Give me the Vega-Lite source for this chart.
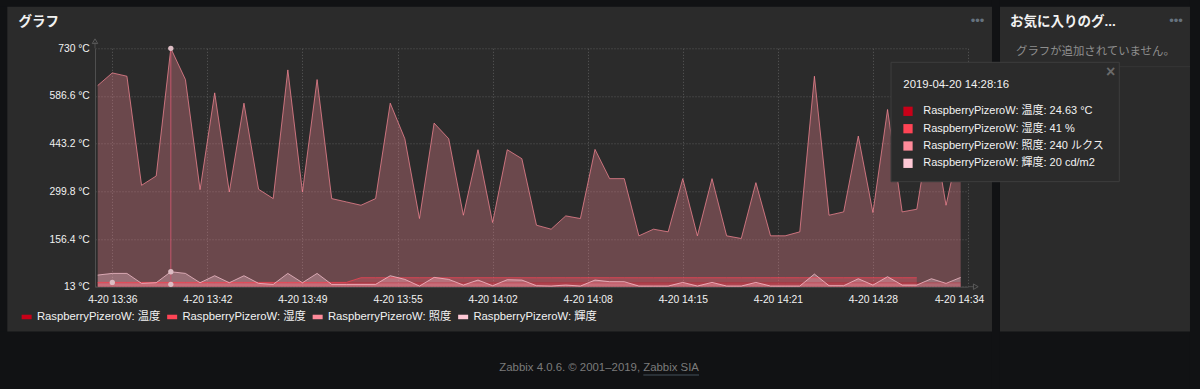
{
  "$schema": "https://vega.github.io/schema/vega-lite/v6.json",
  "width": 873,
  "height": 238.4,
  "autosize": {"type": "none"},
  "padding": {"left": 95, "top": 48.3, "right": 232, "bottom": 102.3},
  "background": "#2b2b2b",
  "config": {"font": "Liberation Sans, Noto Sans CJK JP, sans-serif", "view": {"stroke": null}},
  "layer": [
    {"data": {"values": [{}]}, "mark": {"type": "rect", "color": "#111214"},
     "encoding": {"x": {"datum": {"year":2019,"month":4,"date":20,"hours":13,"minutes":20,"seconds":0,"utc":true}}, "x2": {"datum": {"year":2019,"month":4,"date":20,"hours":13,"minutes":28,"seconds":19,"milliseconds":300,"utc":true}}, "y": {"datum": 900}, "y2": {"datum": -400}}},
    {"data": {"values": [{}]}, "mark": {"type": "rect", "color": "#111214"},
     "encoding": {"x": {"datum": {"year":2019,"month":4,"date":20,"hours":13,"minutes":20,"seconds":0,"utc":true}}, "x2": {"datum": {"year":2019,"month":4,"date":20,"hours":15,"minutes":0,"seconds":0,"utc":true}}, "y": {"datum": 900}, "y2": {"datum": 855.1}}},
    {"data": {"values": [{}]}, "mark": {"type": "rect", "color": "#111214"},
     "encoding": {"x": {"datum": {"year":2019,"month":4,"date":20,"hours":13,"minutes":20,"seconds":0,"utc":true}}, "x2": {"datum": {"year":2019,"month":4,"date":20,"hours":15,"minutes":0,"seconds":0,"utc":true}}, "y": {"datum": -121.7}, "y2": {"datum": -400}}},
    {"data": {"values": [{}]}, "mark": {"type": "rect", "color": "#111214"},
     "encoding": {"x": {"datum": {"year":2019,"month":4,"date":20,"hours":14,"minutes":35,"seconds":38,"milliseconds":400,"utc":true}}, "x2": {"datum": {"year":2019,"month":4,"date":20,"hours":14,"minutes":36,"seconds":11,"milliseconds":200,"utc":true}}, "y": {"datum": 900}, "y2": {"datum": -400}}},
    {"data": {"values": [{}]}, "mark": {"type": "rect", "color": "#111214"},
     "encoding": {"x": {"datum": {"year":2019,"month":4,"date":20,"hours":14,"minutes":49,"seconds":10,"milliseconds":600,"utc":true}}, "x2": {"datum": {"year":2019,"month":4,"date":20,"hours":15,"minutes":0,"seconds":0,"utc":true}}, "y": {"datum": 900}, "y2": {"datum": -400}}},
    {
      "data": {"values": [
        {"t":"2019-04-20T13:34:30Z","temp":24.6,"hum":26,"lux":618,"lum":48},
        {"t":"2019-04-20T13:35:30Z","temp":24.6,"hum":26,"lux":656,"lum":53},
        {"t":"2019-04-20T13:36:30Z","temp":24.6,"hum":26,"lux":646,"lum":53},
        {"t":"2019-04-20T13:37:30Z","temp":24.6,"hum":26,"lux":318,"lum":23},
        {"t":"2019-04-20T13:38:30Z","temp":24.6,"hum":26,"lux":346,"lum":25},
        {"t":"2019-04-20T13:39:30Z","temp":24.6,"hum":26,"lux":730,"lum":58},
        {"t":"2019-04-20T13:40:30Z","temp":24.6,"hum":26,"lux":636,"lum":53},
        {"t":"2019-04-20T13:41:30Z","temp":24.6,"hum":26,"lux":305,"lum":25},
        {"t":"2019-04-20T13:42:30Z","temp":24.6,"hum":26,"lux":596,"lum":46},
        {"t":"2019-04-20T13:43:30Z","temp":24.6,"hum":26,"lux":298,"lum":25},
        {"t":"2019-04-20T13:44:30Z","temp":24.6,"hum":26,"lux":565,"lum":46},
        {"t":"2019-04-20T13:45:30Z","temp":24.6,"hum":26,"lux":306,"lum":23},
        {"t":"2019-04-20T13:46:30Z","temp":24.6,"hum":26,"lux":278,"lum":20},
        {"t":"2019-04-20T13:47:30Z","temp":24.6,"hum":26,"lux":665,"lum":53},
        {"t":"2019-04-20T13:48:30Z","temp":24.6,"hum":26,"lux":298,"lum":25},
        {"t":"2019-04-20T13:49:30Z","temp":24.6,"hum":26,"lux":636,"lum":53},
        {"t":"2019-04-20T13:50:30Z","temp":24.6,"hum":26,"lux":278,"lum":20},
        {"t":"2019-04-20T13:51:30Z","temp":24.6,"hum":26,"lux":268,"lum":20},
        {"t":"2019-04-20T13:52:30Z","temp":24.6,"hum":40,"lux":258,"lum":20},
        {"t":"2019-04-20T13:53:30Z","temp":24.6,"hum":40,"lux":278,"lum":20},
        {"t":"2019-04-20T13:54:30Z","temp":24.6,"hum":40,"lux":565,"lum":46},
        {"t":"2019-04-20T13:55:30Z","temp":24.6,"hum":40,"lux":458,"lum":35},
        {"t":"2019-04-20T13:56:30Z","temp":24.6,"hum":40,"lux":218,"lum":15},
        {"t":"2019-04-20T13:57:30Z","temp":24.6,"hum":40,"lux":505,"lum":41},
        {"t":"2019-04-20T13:58:30Z","temp":24.6,"hum":40,"lux":458,"lum":35},
        {"t":"2019-04-20T13:59:30Z","temp":24.6,"hum":40,"lux":228,"lum":18},
        {"t":"2019-04-20T14:00:30Z","temp":24.6,"hum":40,"lux":425,"lum":33},
        {"t":"2019-04-20T14:01:30Z","temp":24.6,"hum":40,"lux":206,"lum":16},
        {"t":"2019-04-20T14:02:30Z","temp":24.6,"hum":40,"lux":425,"lum":34},
        {"t":"2019-04-20T14:03:30Z","temp":24.6,"hum":40,"lux":398,"lum":33},
        {"t":"2019-04-20T14:04:30Z","temp":24.6,"hum":40,"lux":198,"lum":16},
        {"t":"2019-04-20T14:05:30Z","temp":24.6,"hum":40,"lux":186,"lum":15},
        {"t":"2019-04-20T14:06:30Z","temp":24.6,"hum":40,"lux":226,"lum":18},
        {"t":"2019-04-20T14:07:30Z","temp":24.6,"hum":40,"lux":218,"lum":15},
        {"t":"2019-04-20T14:08:30Z","temp":24.6,"hum":40,"lux":426,"lum":33},
        {"t":"2019-04-20T14:09:30Z","temp":24.6,"hum":40,"lux":338,"lum":28},
        {"t":"2019-04-20T14:10:30Z","temp":24.6,"hum":40,"lux":338,"lum":28},
        {"t":"2019-04-20T14:11:30Z","temp":24.6,"hum":40,"lux":166,"lum":15},
        {"t":"2019-04-20T14:12:30Z","temp":24.6,"hum":40,"lux":186,"lum":15},
        {"t":"2019-04-20T14:13:30Z","temp":24.6,"hum":40,"lux":178,"lum":15},
        {"t":"2019-04-20T14:14:30Z","temp":24.6,"hum":40,"lux":338,"lum":26},
        {"t":"2019-04-20T14:15:30Z","temp":24.6,"hum":40,"lux":166,"lum":15},
        {"t":"2019-04-20T14:16:30Z","temp":24.6,"hum":40,"lux":338,"lum":26},
        {"t":"2019-04-20T14:17:30Z","temp":24.6,"hum":40,"lux":166,"lum":15},
        {"t":"2019-04-20T14:18:30Z","temp":24.6,"hum":40,"lux":158,"lum":15},
        {"t":"2019-04-20T14:19:30Z","temp":24.6,"hum":40,"lux":326,"lum":26},
        {"t":"2019-04-20T14:20:30Z","temp":24.6,"hum":40,"lux":166,"lum":15},
        {"t":"2019-04-20T14:21:30Z","temp":24.6,"hum":40,"lux":166,"lum":15},
        {"t":"2019-04-20T14:22:30Z","temp":24.6,"hum":40,"lux":178,"lum":15},
        {"t":"2019-04-20T14:23:30Z","temp":24.6,"hum":40,"lux":646,"lum":51},
        {"t":"2019-04-20T14:24:30Z","temp":24.6,"hum":40,"lux":228,"lum":16},
        {"t":"2019-04-20T14:25:30Z","temp":24.6,"hum":40,"lux":238,"lum":16},
        {"t":"2019-04-20T14:26:30Z","temp":24.6,"hum":40,"lux":466,"lum":37},
        {"t":"2019-04-20T14:27:30Z","temp":24.6,"hum":40,"lux":236,"lum":18},
        {"t":"2019-04-20T14:28:30Z","temp":24.6,"hum":40,"lux":546,"lum":43},
        {"t":"2019-04-20T14:29:30Z","temp":24.6,"hum":40,"lux":238,"lum":18},
        {"t":"2019-04-20T14:30:30Z","temp":24.6,"hum":40,"lux":246,"lum":18},
        {"t":"2019-04-20T14:31:30Z","temp":24.6,"lux":520,"lum":37},
        {"t":"2019-04-20T14:32:30Z","temp":24.6,"lux":258,"lum":23},
        {"t":"2019-04-20T14:33:30Z","temp":24.6,"lux":460,"lum":41}
      ]},
      "transform": [{"fold": ["temp", "hum", "lux", "lum"], "as": ["item", "v"]}],
      "encoding": {
        "x": {"field": "t", "type": "temporal",
          "scale": {"type": "utc", "nice": false, "domain": [{"year":2019,"month":4,"date":20,"hours":13,"minutes":34,"seconds":19,"utc":true}, {"year":2019,"month":4,"date":20,"hours":14,"minutes":34,"seconds":0,"utc":true}]},
          "axis": {
            "values": [
              {"year":2019,"month":4,"date":20,"hours":13,"minutes":35,"seconds":30,"utc":true},
              {"year":2019,"month":4,"date":20,"hours":13,"minutes":42,"seconds":0,"utc":true},
              {"year":2019,"month":4,"date":20,"hours":13,"minutes":48,"seconds":30,"utc":true},
              {"year":2019,"month":4,"date":20,"hours":13,"minutes":55,"seconds":0,"utc":true},
              {"year":2019,"month":4,"date":20,"hours":14,"minutes":1,"seconds":30,"utc":true},
              {"year":2019,"month":4,"date":20,"hours":14,"minutes":8,"seconds":0,"utc":true},
              {"year":2019,"month":4,"date":20,"hours":14,"minutes":14,"seconds":30,"utc":true},
              {"year":2019,"month":4,"date":20,"hours":14,"minutes":21,"seconds":0,"utc":true},
              {"year":2019,"month":4,"date":20,"hours":14,"minutes":27,"seconds":30,"utc":true},
              {"year":2019,"month":4,"date":20,"hours":14,"minutes":34,"seconds":0,"utc":true}
            ],
            "labelExpr": "utcFormat(datum.value + 30000, '%-m-%d %H:%M')",
            "title": null, "grid": true, "gridColor": "#5a5a5a", "gridDash": [1, 2],
            "domainColor": "#4f4f4f", "ticks": false, "tickSize": 0, "labelPadding": 8,
            "labelColor": "#f2f2f2", "labelFontSize": 10.3, "labelFlush": false, "labelOverlap": false, "labelBound": false,
            "labelOffset": {"condition": {"test": "utchours(datum.value) == 14 && utcminutes(datum.value) == 34", "value": -9}, "value": 0}
          }},
        "y": {"field": "v", "type": "quantitative", "stack": null,
          "scale": {"domain": [13, 730], "nice": false, "zero": false},
          "axis": {"values": [13, 156.4, 299.8, 443.2, 586.6, 730], "labelExpr": "datum.value + ' °C'",
            "title": null, "grid": true, "gridColor": "#5a5a5a", "gridDash": [1, 2], "domainColor": "#4f4f4f",
            "ticks": false, "tickSize": 0, "labelPadding": 5.7, "labelColor": "#f2f2f2", "labelFontSize": 10.3,
            "labelOverlap": false, "labelFlush": false}},
        "color": {"field": "item", "type": "nominal",
          "scale": {"domain": ["temp", "hum", "lux", "lum"], "range": ["#C80018", "#FF4455", "#FF8A99", "#FFC9D6"]},
          "legend": {"orient": "none", "legendX": -74, "legendY": 263, "direction": "horizontal", "columns": 4,
            "title": null, "symbolType": "M-1,-0.45H1V0.45H-1Z", "symbolSize": 100, "symbolStrokeWidth": 0,
            "symbolOpacity": 1, "labelColor": "#f2f2f2", "labelFontSize": 11.3, "labelOffset": 4.6,
            "columnPadding": 5.5, "labelLimit": 220, "padding": 0,
            "labelExpr": "datum.label == 'temp' ? 'RaspberryPizeroW: 温度' : datum.label == 'hum' ? 'RaspberryPizeroW: 湿度' : datum.label == 'lux' ? 'RaspberryPizeroW: 照度' : 'RaspberryPizeroW: 輝度'"}}
      },
      "layer": [
        {"mark": {"type": "area", "fillOpacity": 0.3, "interpolate": "linear"}, "encoding": {"y2": {"datum": 13}}},
        {"mark": {"type": "line", "strokeWidth": 1, "interpolate": "linear"},
         "encoding": {"strokeOpacity": {"condition": {"test": "datum.item == 'temp'", "value": 0.3}, "value": 0.7}}}
      ]
    },
    {"data": {"values": [{}]}, "mark": {"type": "rule", "color": "#c4566b", "strokeWidth": 1},
     "encoding": {"x": {"datum": {"year":2019,"month":4,"date":20,"hours":13,"minutes":39,"seconds":30,"utc":true}}, "y": {"datum": 13}, "y2": {"datum": 730}}},
    {"data": {"values": [
        {"t": "2019-04-20T13:39:30Z", "v": 730},
        {"t": "2019-04-20T13:39:30Z", "v": 58},
        {"t": "2019-04-20T13:39:30Z", "v": 20},
        {"t": "2019-04-20T13:35:30Z", "v": 26}
      ]},
     "mark": {"type": "point", "filled": true, "size": 28, "color": "#dcbcc3", "opacity": 1},
     "encoding": {"x": {"field": "t", "type": "temporal"}, "y": {"field": "v", "type": "quantitative"}}},
    {"data": {"values": [{}]}, "mark": {"type": "rule", "color": "#4f4f4f"},
     "encoding": {"x": {"datum": {"year":2019,"month":4,"date":20,"hours":13,"minutes":34,"seconds":19,"utc":true}}, "y": {"datum": 730}, "y2": {"datum": 749}}},
    {"data": {"values": [{}]}, "mark": {"type": "point", "shape": "triangle-up", "size": 30, "filled": false, "stroke": "#5a5a5a", "strokeWidth": 1, "opacity": 1},
     "encoding": {"x": {"datum": {"year":2019,"month":4,"date":20,"hours":13,"minutes":34,"seconds":19,"utc":true}}, "y": {"datum": 751.3}}},
    {"data": {"values": [{}]}, "mark": {"type": "rule", "color": "#4f4f4f"},
     "encoding": {"x": {"datum": {"year":2019,"month":4,"date":20,"hours":14,"minutes":34,"seconds":0,"utc":true}}, "x2": {"datum": {"year":2019,"month":4,"date":20,"hours":14,"minutes":34,"seconds":24,"utc":true}}, "y": {"datum": 13}}},
    {"data": {"values": [{}]}, "mark": {"type": "point", "shape": "triangle-right", "size": 30, "filled": false, "stroke": "#5a5a5a", "strokeWidth": 1, "opacity": 1},
     "encoding": {"x": {"datum": {"year":2019,"month":4,"date":20,"hours":14,"minutes":34,"seconds":32,"utc":true}}, "y": {"datum": 13}}},
    {"data": {"values": [{}]}, "mark": {"type": "text", "text": "グラフ", "align": "left", "baseline": "middle", "fontSize": 13.5, "fontWeight": "bold", "color": "#f2f2f2"},
     "encoding": {"x": {"datum": {"year":2019,"month":4,"date":20,"hours":13,"minutes":29,"seconds":5,"milliseconds":200,"utc":true}}, "y": {"datum": 807.6}}},
    {"data": {"values": [{}]}, "mark": {"type": "text", "text": "•••", "align": "center", "baseline": "middle", "fontSize": 13, "color": "#66727e"},
     "encoding": {"x": {"datum": {"year":2019,"month":4,"date":20,"hours":14,"minutes":34,"seconds":39,"utc":true}}, "y": {"datum": 813}}},
    {"data": {"values": [{}]}, "mark": {"type": "text", "text": "お気に入りのグ...", "align": "left", "baseline": "middle", "fontSize": 13.5, "fontWeight": "bold", "color": "#f2f2f2"},
     "encoding": {"x": {"datum": {"year":2019,"month":4,"date":20,"hours":14,"minutes":36,"seconds":52,"milliseconds":300,"utc":true}}, "y": {"datum": 807.6}}},
    {"data": {"values": [{}]}, "mark": {"type": "text", "text": "•••", "align": "center", "baseline": "middle", "fontSize": 13, "color": "#66727e"},
     "encoding": {"x": {"datum": {"year":2019,"month":4,"date":20,"hours":14,"minutes":48,"seconds":13,"milliseconds":200,"utc":true}}, "y": {"datum": 813}}},
    {"data": {"values": [{}]}, "mark": {"type": "text", "text": "グラフが追加されていません。", "align": "left", "baseline": "middle", "fontSize": 11.4, "color": "#8e8e8e"},
     "encoding": {"x": {"datum": {"year":2019,"month":4,"date":20,"hours":14,"minutes":37,"seconds":16,"milliseconds":900,"utc":true}}, "y": {"datum": 718.9}}},
    {"data": {"values": [{}]}, "mark": {"type": "rule", "color": "#363636"},
     "encoding": {"x": {"datum": {"year":2019,"month":4,"date":20,"hours":14,"minutes":36,"seconds":11,"milliseconds":200,"utc":true}}, "x2": {"datum": {"year":2019,"month":4,"date":20,"hours":14,"minutes":49,"seconds":10,"milliseconds":600,"utc":true}}, "y": {"datum": 674.7}}},
    {"data": {"values": [{}]}, "mark": {"type": "text", "text": "Zabbix 4.0.6. © 2001–2019, Zabbix SIA", "align": "left", "baseline": "middle", "fontSize": 11.4, "color": "#7b7b7b"},
     "encoding": {"x": {"datum": {"year":2019,"month":4,"date":20,"hours":14,"minutes":1,"seconds":57,"milliseconds":400,"utc":true}}, "y": {"datum": -231.5}}},
    {"data": {"values": [{}]}, "mark": {"type": "rule", "color": "#45505b"},
     "encoding": {"x": {"datum": {"year":2019,"month":4,"date":20,"hours":14,"minutes":11,"seconds":48,"milliseconds":100,"utc":true}}, "x2": {"datum": {"year":2019,"month":4,"date":20,"hours":14,"minutes":15,"seconds":36,"milliseconds":600,"utc":true}}, "y": {"datum": -252.6}}},
    {"data": {"values": [{}]}, "mark": {"type": "rect", "fill": "#2b2b2b", "stroke": "#3e3e3e", "strokeWidth": 1},
     "encoding": {"x": {"datum": {"year":2019,"month":4,"date":20,"hours":14,"minutes":28,"seconds":44,"milliseconds":100,"utc":true}}, "x2": {"datum": {"year":2019,"month":4,"date":20,"hours":14,"minutes":44,"seconds":20,"milliseconds":600,"utc":true}}, "y": {"datum": 687.9}, "y2": {"datum": 328.8}}},
    {"data": {"values": [{}]}, "mark": {"type": "text", "text": "2019-04-20 14:28:16", "align": "left", "baseline": "middle", "fontSize": 11.4, "color": "#f2f2f2"},
     "encoding": {"x": {"datum": {"year":2019,"month":4,"date":20,"hours":14,"minutes":29,"seconds":34,"milliseconds":600,"utc":true}}, "y": {"datum": 619.6}}},
    {"data": {"values": [{}]}, "mark": {"type": "text", "text": "×", "align": "center", "baseline": "middle", "fontSize": 16, "fontWeight": "bold", "color": "#6a6a6a"},
     "encoding": {"x": {"datum": {"year":2019,"month":4,"date":20,"hours":14,"minutes":43,"seconds":45,"milliseconds":300,"utc":true}}, "y": {"datum": 659.6}}},
    {"data": {"values": [{}]}, "mark": {"type": "square", "size": 86, "filled": true, "color": "#C80018", "opacity": 1},
     "encoding": {"x": {"datum": {"year":2019,"month":4,"date":20,"hours":14,"minutes":29,"seconds":53,"milliseconds":900,"utc":true}}, "y": {"datum": 540.5}}},
    {"data": {"values": [{}]}, "mark": {"type": "square", "size": 86, "filled": true, "color": "#FF4455", "opacity": 1},
     "encoding": {"x": {"datum": {"year":2019,"month":4,"date":20,"hours":14,"minutes":29,"seconds":53,"milliseconds":900,"utc":true}}, "y": {"datum": 488.2}}},
    {"data": {"values": [{}]}, "mark": {"type": "square", "size": 86, "filled": true, "color": "#FF8A99", "opacity": 1},
     "encoding": {"x": {"datum": {"year":2019,"month":4,"date":20,"hours":14,"minutes":29,"seconds":53,"milliseconds":900,"utc":true}}, "y": {"datum": 436.2}}},
    {"data": {"values": [{}]}, "mark": {"type": "square", "size": 86, "filled": true, "color": "#FFC9D6", "opacity": 1},
     "encoding": {"x": {"datum": {"year":2019,"month":4,"date":20,"hours":14,"minutes":29,"seconds":53,"milliseconds":900,"utc":true}}, "y": {"datum": 384.1}}},
    {"data": {"values": [{}]}, "mark": {"type": "text", "text": "RaspberryPizeroW: 温度: 24.63 °C", "align": "left", "baseline": "middle", "fontSize": 11, "color": "#f2f2f2"},
     "encoding": {"x": {"datum": {"year":2019,"month":4,"date":20,"hours":14,"minutes":30,"seconds":56,"milliseconds":600,"utc":true}}, "y": {"datum": 540.5}}},
    {"data": {"values": [{}]}, "mark": {"type": "text", "text": "RaspberryPizeroW: 湿度: 41 %", "align": "left", "baseline": "middle", "fontSize": 11, "color": "#f2f2f2"},
     "encoding": {"x": {"datum": {"year":2019,"month":4,"date":20,"hours":14,"minutes":30,"seconds":56,"milliseconds":600,"utc":true}}, "y": {"datum": 488.2}}},
    {"data": {"values": [{}]}, "mark": {"type": "text", "text": "RaspberryPizeroW: 照度: 240 ルクス", "align": "left", "baseline": "middle", "fontSize": 11, "color": "#f2f2f2"},
     "encoding": {"x": {"datum": {"year":2019,"month":4,"date":20,"hours":14,"minutes":30,"seconds":56,"milliseconds":600,"utc":true}}, "y": {"datum": 436.2}}},
    {"data": {"values": [{}]}, "mark": {"type": "text", "text": "RaspberryPizeroW: 輝度: 20 cd/m2", "align": "left", "baseline": "middle", "fontSize": 11, "color": "#f2f2f2"},
     "encoding": {"x": {"datum": {"year":2019,"month":4,"date":20,"hours":14,"minutes":30,"seconds":56,"milliseconds":600,"utc":true}}, "y": {"datum": 384.1}}}
  ]
}
